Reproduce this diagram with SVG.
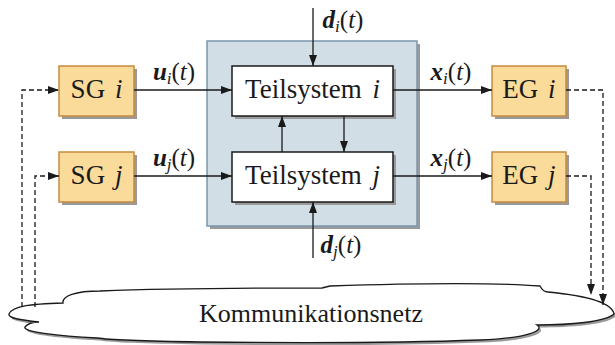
<svg xmlns="http://www.w3.org/2000/svg" width="615" height="345" viewBox="0 0 615 345" font-family="'Liberation Serif', 'DejaVu Serif', serif">
<style>
  text{font-family:"Liberation Serif","DejaVu Serif",serif;fill:#1a1a1a}
  .lbl{font-size:27px}
  .math{font-size:25px}
  .sub{font-size:17px;font-style:italic}
  .it{font-style:italic}
  .bi{font-style:italic;font-weight:bold}
  .shadow{fill:#9a9a9a}
  .sg{fill:#FADB9A;stroke:#C68A40;stroke-width:1.5}
  .ts{fill:#ffffff;stroke:#1a1a1a;stroke-width:1.5}
  .conn{fill:none;stroke:#1a1a1a;stroke-width:1.3}
  .dash{stroke-dasharray:5,3}
</style>
<defs>
  <marker id="arr" markerUnits="userSpaceOnUse" markerWidth="11" markerHeight="8" refX="11" refY="4" orient="auto">
    <path d="M0,0 L11,4 L0,8 Z" fill="#1a1a1a"/>
  </marker>
</defs>

<g id="gesamtsystem">
  <rect class="shadow" x="210" y="44" width="210" height="185"/>
  <rect x="207" y="41" width="210" height="185" fill="#D1DEE6" stroke="#7B97AC" stroke-width="1.5"/>
</g>

<g id="netz">
  <path class="shadow" transform="translate(2,2.5)" d="M9,314 C12,306 30,304 63,303 C62,296 75,291 100,291 C180,288 260,288 322,288 L330,286 C420,283 500,283 540,286 C542,290 545,292 548,292 C590,296 612,303 614,314 C605,322 570,325 537,325 C545,330 530,338 480,340 C400,343 300,343 200,342 C140,341 110,340 97,338 C60,336 22,332 25,327 C28,323 34,322 39,322 C20,320 8,318 9,314 Z"/>
  <path fill="#ffffff" stroke="#1a1a1a" stroke-width="1.3" d="M9,314 C12,306 30,304 63,303 C62,296 75,291 100,291 C180,288 260,288 322,288 L330,286 C420,283 500,283 540,286 C542,290 545,292 548,292 C590,296 612,303 614,314 C605,322 570,325 537,325 C545,330 530,338 480,340 C400,343 300,343 200,342 C140,341 110,340 97,338 C60,336 22,332 25,327 C28,323 34,322 39,322 C20,320 8,318 9,314 Z"/>
  <text x="311" y="322" font-size="26" text-anchor="middle">Kommunikationsnetz</text>
</g>

<g id="sg_i">
  <rect class="shadow" x="62" y="69" width="75" height="50"/>
  <rect class="sg" x="59" y="66" width="75" height="50"/>
  <text class="lbl" x="96.5" y="98" text-anchor="middle" word-spacing="3">SG <tspan class="it">i</tspan></text>
</g>
<g id="sg_j">
  <rect class="shadow" x="62" y="155" width="75" height="50"/>
  <rect class="sg" x="59" y="152" width="75" height="50"/>
  <text class="lbl" x="96.5" y="184" text-anchor="middle" word-spacing="3">SG <tspan class="it">j</tspan></text>
</g>
<g id="teilsystem_i">
  <rect class="shadow" x="235" y="69" width="161" height="50"/>
  <rect class="ts" x="232" y="66" width="161" height="50"/>
  <text class="lbl" x="312.5" y="98" text-anchor="middle" word-spacing="4">Teilsystem <tspan class="it">i</tspan></text>
</g>
<g id="teilsystem_j">
  <rect class="shadow" x="235" y="155" width="161" height="50"/>
  <rect class="ts" x="232" y="152" width="161" height="50"/>
  <text class="lbl" x="312.5" y="184" text-anchor="middle" word-spacing="4">Teilsystem <tspan class="it">j</tspan></text>
</g>
<g id="eg_i">
  <rect class="shadow" x="495" y="69" width="74" height="50"/>
  <rect class="sg" x="492" y="66" width="74" height="50"/>
  <text class="lbl" x="529" y="98" text-anchor="middle" word-spacing="3">EG <tspan class="it">i</tspan></text>
</g>
<g id="eg_j">
  <rect class="shadow" x="495" y="155" width="74" height="50"/>
  <rect class="sg" x="492" y="152" width="74" height="50"/>
  <text class="lbl" x="529" y="184" text-anchor="middle" word-spacing="3">EG <tspan class="it">j</tspan></text>
</g>

<g id="connectors">
  <path class="conn" d="M134,90 H232" marker-end="url(#arr)"/>
  <path class="conn" d="M134,176 H232" marker-end="url(#arr)"/>
  <path class="conn" d="M393,90 H492" marker-end="url(#arr)"/>
  <path class="conn" d="M393,176 H492" marker-end="url(#arr)"/>
  <path class="conn" d="M282,152 V116" marker-end="url(#arr)"/>
  <path class="conn" d="M344,116 V152" marker-end="url(#arr)"/>
  <path class="conn" d="M313,8 V66" marker-end="url(#arr)"/>
  <path class="conn" d="M313,258 V202" marker-end="url(#arr)"/>
  <path class="conn dash" d="M22,307 V90 H59" marker-end="url(#arr)"/>
  <path class="conn dash" d="M35,307 V176 H59" marker-end="url(#arr)"/>
  <path class="conn dash" d="M566,90 H603 V305" marker-end="url(#arr)"/>
  <path class="conn dash" d="M566,176 H591 V295" marker-end="url(#arr)"/>

  <text class="math" x="174" y="80" text-anchor="middle"><tspan class="bi">u</tspan><tspan class="sub" dy="4">i</tspan><tspan dy="-4">(</tspan><tspan class="it">t</tspan>)</text>
  <text class="math" x="174" y="166" text-anchor="middle"><tspan class="bi">u</tspan><tspan class="sub" dy="4">j</tspan><tspan dy="-4">(</tspan><tspan class="it">t</tspan>)</text>
  <text class="math" x="451" y="80" text-anchor="middle"><tspan class="bi">x</tspan><tspan class="sub" dy="4">i</tspan><tspan dy="-4">(</tspan><tspan class="it">t</tspan>)</text>
  <text class="math" x="451" y="166" text-anchor="middle"><tspan class="bi">x</tspan><tspan class="sub" dy="4">j</tspan><tspan dy="-4">(</tspan><tspan class="it">t</tspan>)</text>
  <text class="math" x="343" y="28" text-anchor="middle"><tspan class="bi">d</tspan><tspan class="sub" dy="4">i</tspan><tspan dy="-4">(</tspan><tspan class="it">t</tspan>)</text>
  <text class="math" x="341" y="253" text-anchor="middle"><tspan class="bi">d</tspan><tspan class="sub" dy="4">j</tspan><tspan dy="-4">(</tspan><tspan class="it">t</tspan>)</text>
</g>
</svg>
